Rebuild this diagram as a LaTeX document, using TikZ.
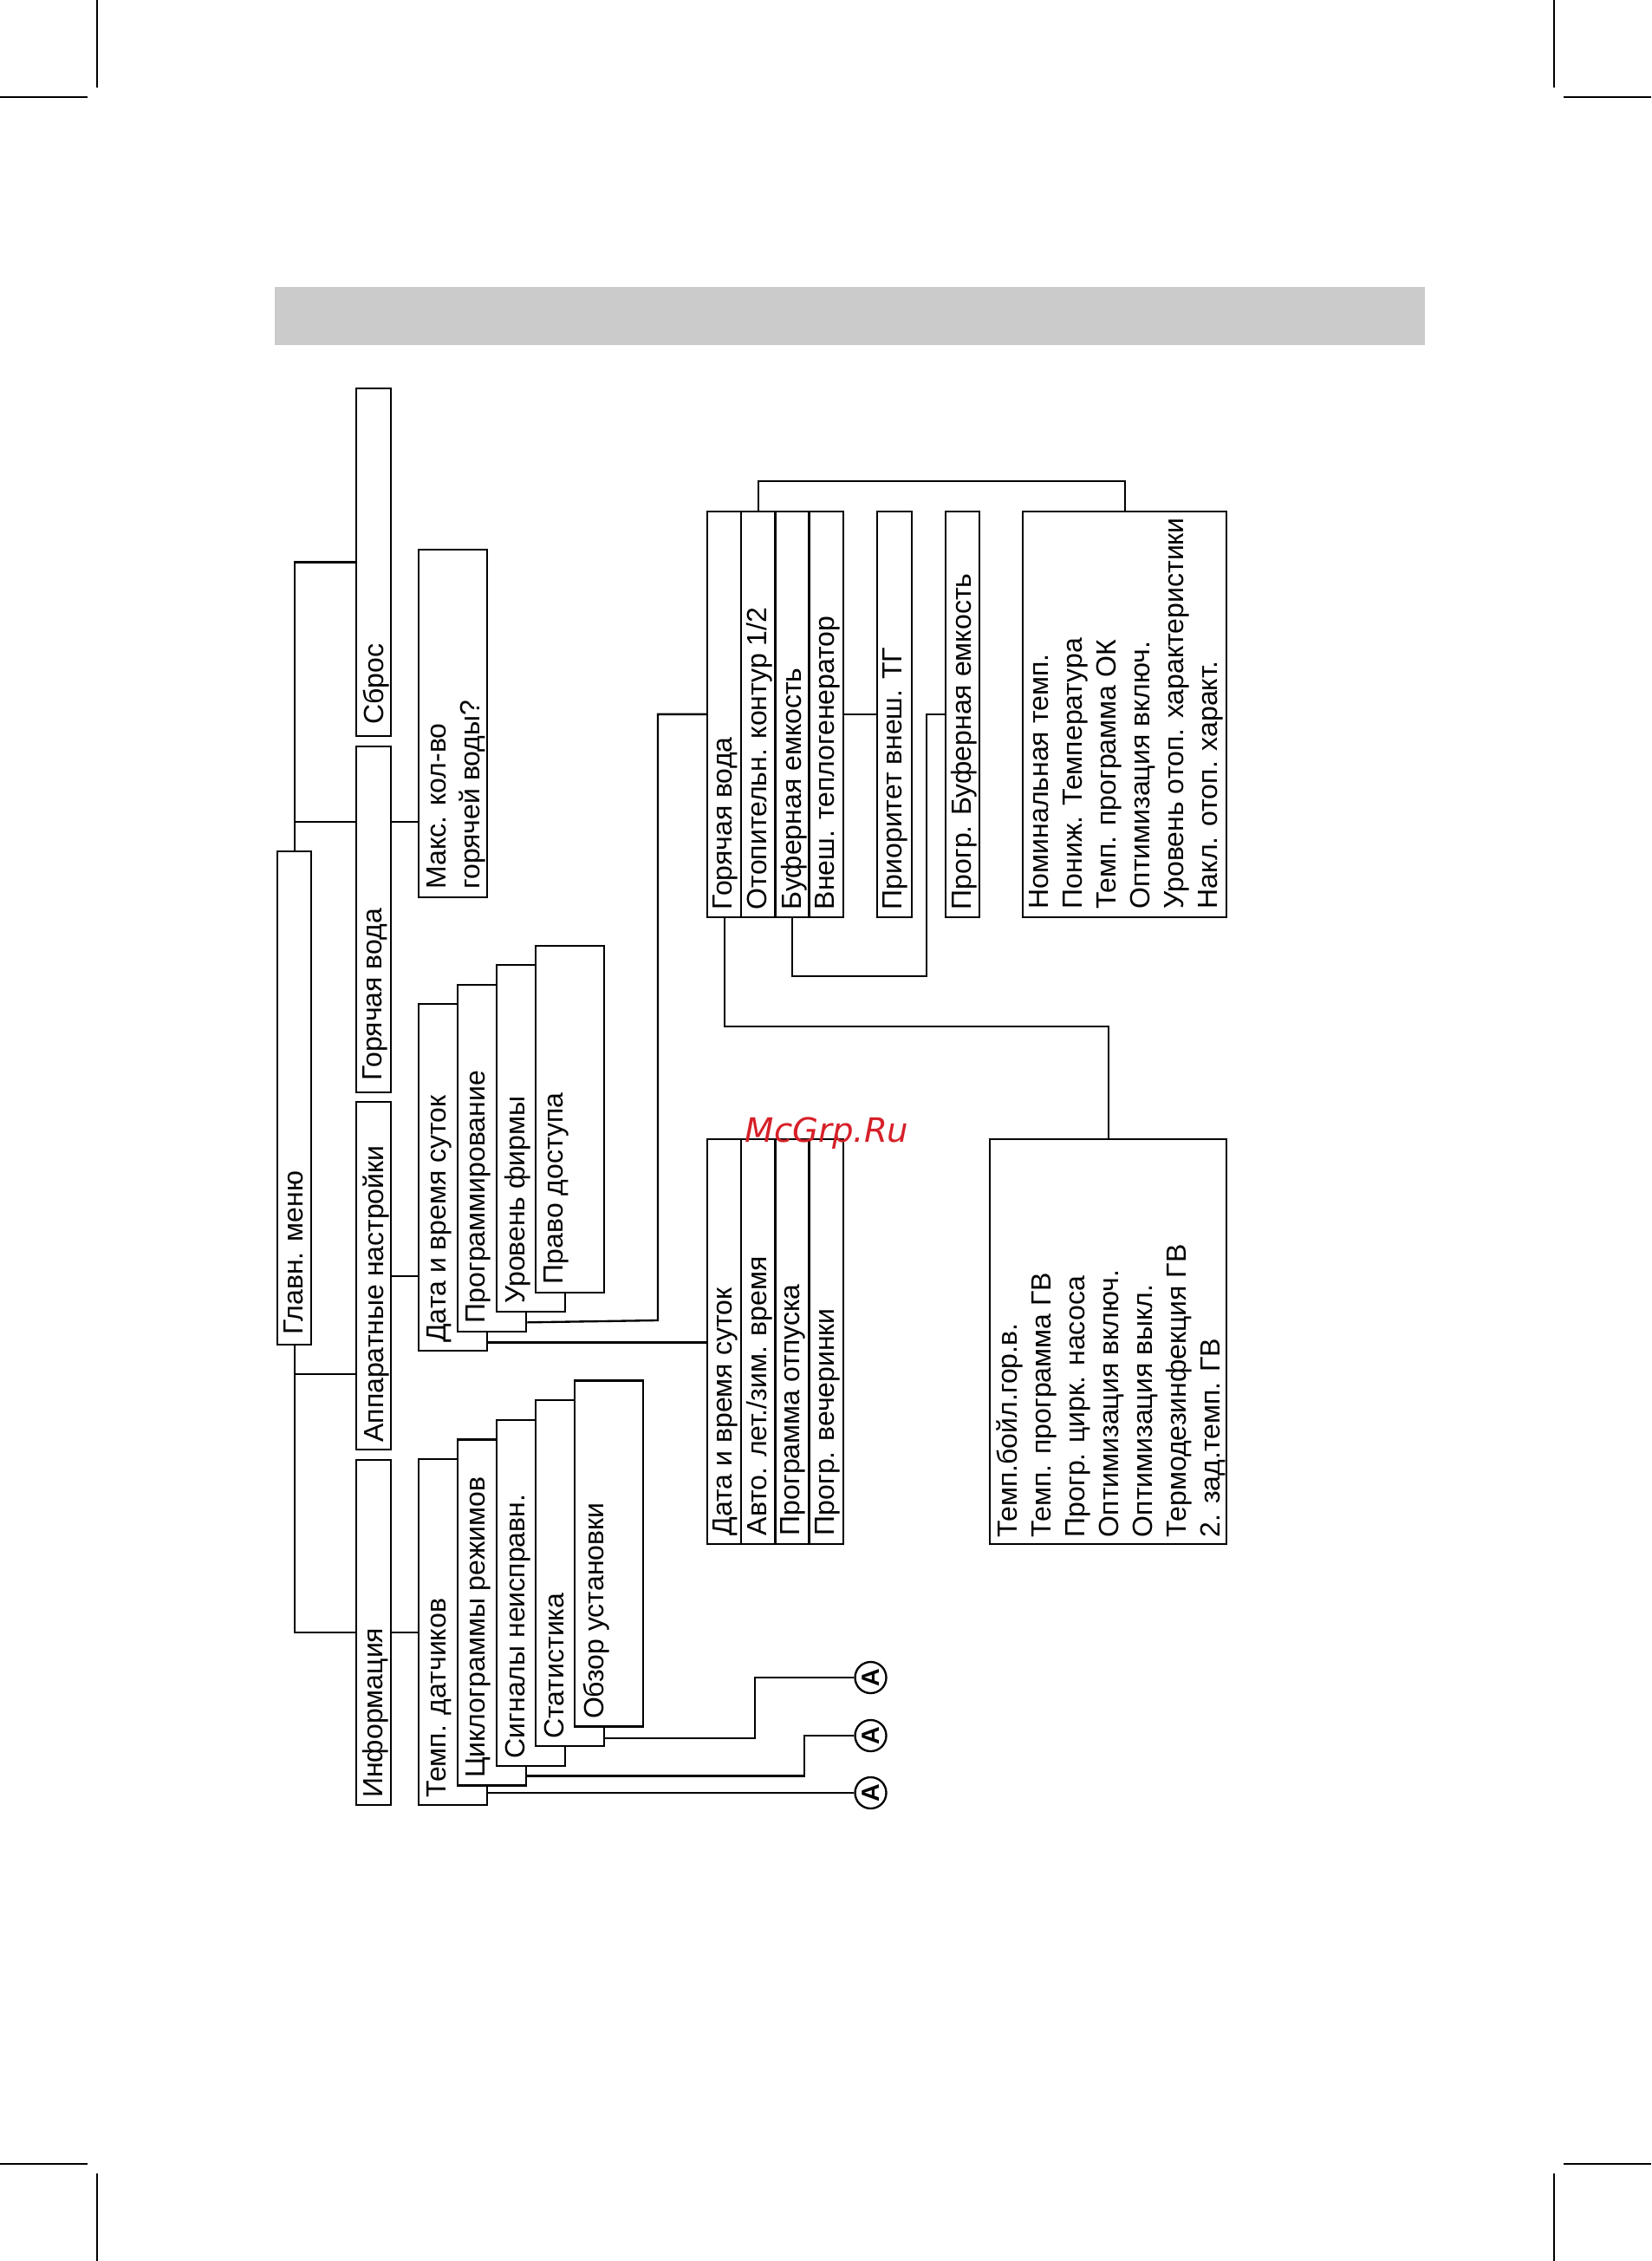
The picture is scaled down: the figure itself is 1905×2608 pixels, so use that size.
\documentclass[tikz,border=0pt]{standalone}
\usepackage{fontspec}
\setmainfont{Liberation Sans}
\newfontfamily\markfont{DejaVu Sans}
\newcommand{\menufont}{\fontsize{9.6pt}{11.7pt}\selectfont}
\definecolor{band}{RGB}{203,203,203}
\definecolor{wmred}{RGB}{214,32,40}
\tikzset{
  menubox/.style={
    draw=black,
    fill=white,
    line width=0.7pt,
    inner sep=0pt,
    anchor=north west
  },
  boxsize/.style 2 args={
    minimum width=#1*0.3pt,
    minimum height=#2*0.3pt
  },
  boxtext/.style={
    rotate=90,
    anchor=north west,
    inner sep=0pt,
    align=left,
    font=\menufont
  },
  jumpmark/.style={
    draw=black,
    circle,
    fill=white,
    line width=0.7pt,
    minimum size=10.8pt,
    inner sep=0pt,
    rotate=90,
    font=\bfseries\fontsize{8.6pt}{8.6pt}\selectfont
  },
  link/.style={
    line width=0.7pt
  },
  cropmark/.style={
    line width=0.4pt
  }
}

\begin{document}
\begin{tikzpicture}[x=0.3pt, y=-0.3pt]
  \useasboundingbox (0,0) rectangle (1905,2608);
  \draw[cropmark] (112,0) -- (112,101) (0,112) -- (101,112);
  \draw[cropmark] (1793,0) -- (1793,101) (1804,112) -- (1905,112);
  \draw[cropmark] (112,2507) -- (112,2608) (0,2496) -- (101,2496);
  \draw[cropmark] (1793,2507) -- (1793,2608) (1804,2496) -- (1905,2496);
  \fill[band] (317,331) rectangle (1644,398);

  % first level
  \node[menubox, boxsize={39}{569}] (glavn) at (319,981) {};
  \node[menubox, boxsize={40}{401}] (sbros) at (410,447) {};
  \node[menubox, boxsize={40}{399}] (hotw) at (410,860) {};
  \node[menubox, boxsize={40}{401}] (app) at (410,1270) {};
  \node[menubox, boxsize={40}{398}] (info) at (410,1683) {};
  \node[boxtext] (glavn-t) at ([shift={(8,-12)}]glavn.south west) {Главн. меню};
  \node[boxtext] (sbros-t) at ([shift={(8,-14)}]sbros.south west) {Сброс};
  \node[boxtext] (hotw-t) at ([shift={(8,-14)}]hotw.south west) {Горячая вода};
  \node[boxtext] (app-t) at ([shift={(8,-9)}]app.south west) {Аппаратные настройки};
  \node[boxtext] (info-t) at ([shift={(8,-9)}]info.south west) {Информация};

  \node[menubox, boxsize={79}{401}] (maks) at (482,633) {};
  \node[boxtext] (maks-t) at ([shift={(10,-10)}]maks.south west) {Макс. кол-во\\горячей воды?};

  % apparatus settings
  \node[menubox, boxsize={79}{400}] (date) at (482,1157) {};
  \node[boxtext] (date-t) at ([shift={(10,-10)}]date.south west) {Дата и время суток};
  \node[menubox, boxsize={79}{400}] (prog) at (527,1134.5) {};
  \node[boxtext] (prog-t) at ([shift={(10,-10)}]prog.south west) {Программирование};
  \node[menubox, boxsize={79}{400}] (level) at (572,1112) {};
  \node[boxtext] (level-t) at ([shift={(10,-10)}]level.south west) {Уровень фирмы};
  \node[menubox, boxsize={79}{400}] (access) at (617,1089.5) {};
  \node[boxtext] (access-t) at ([shift={(10,-10)}]access.south west) {Право доступа};

  % information
  \node[menubox, boxsize={79}{399}] (temp) at (482,1682) {};
  \node[boxtext] (temp-t) at ([shift={(10,-9)}]temp.south west) {Темп. датчиков};
  \node[menubox, boxsize={79}{399}] (cycl) at (527,1659.3) {};
  \node[boxtext] (cycl-t) at ([shift={(10,-9)}]cycl.south west) {Циклограммы режимов};
  \node[menubox, boxsize={79}{399}] (fault) at (572,1636.6) {};
  \node[boxtext] (fault-t) at ([shift={(10,-9)}]fault.south west) {Сигналы неисправн.};
  \node[menubox, boxsize={79}{399}] (stat) at (617,1614) {};
  \node[boxtext] (stat-t) at ([shift={(10,-9)}]stat.south west) {Статистика};
  \node[menubox, boxsize={79}{399}] (review) at (662,1591.3) {};
  \node[boxtext] (review-t) at ([shift={(10,-9)}]review.south west) {Обзор установки};

  % programming
  \node[menubox, boxsize={39.1}{467.5}] (hwcol) at (815,589) {};
  \node[menubox, boxsize={39.1}{467.5}] (heatcol) at (854.1,589) {};
  \node[menubox, boxsize={39.1}{467.5}] (bufcol) at (893.2,589) {};
  \node[menubox, boxsize={39.2}{467.5}] (extcol) at (932.3,589) {};
  \node[boxtext] (hwcol-t) at ([shift={(7,-9)}]hwcol.south west) {Горячая вода};
  \node[boxtext] (heatcol-t) at ([shift={(7,-9)}]heatcol.south west) {Отопительн. контур 1/2};
  \node[boxtext] (bufcol-t) at ([shift={(7,-9)}]bufcol.south west) {Буферная емкость};
  \node[boxtext] (extcol-t) at ([shift={(7,-9)}]extcol.south west) {Внеш. теплогенератор};
  \node[menubox, boxsize={40}{467.5}] (prio) at (1011,589) {};
  \node[boxtext] (prio-t) at ([shift={(7,-9)}]prio.south west) {Приоритет внеш. ТГ};
  \node[menubox, boxsize={39}{467.5}] (bufprog) at (1090,589) {};
  \node[boxtext] (bufprog-t) at ([shift={(7,-9)}]bufprog.south west) {Прогр. Буферная емкость};
  \node[menubox, boxsize={235}{467.5}] (heatpar) at (1179,589) {};
  \node[boxtext] (heatpar-t) at ([shift={(8,-10)}]heatpar.south west) {Номинальная темп.\\Пониж. Температура\\Темп. программа ОК\\Оптимизация включ.\\Уровень отоп. характеристики\\Накл. отоп. характ.};

  \node[menubox, boxsize={39.1}{466.5}] (dtcol) at (815,1313) {};
  \node[menubox, boxsize={39.1}{466.5}] (dstcol) at (854.1,1313) {};
  \node[menubox, boxsize={39.1}{466.5}] (holcol) at (893.2,1313) {};
  \node[menubox, boxsize={39.2}{466.5}] (partycol) at (932.3,1313) {};
  \node[boxtext] (dtcol-t) at ([shift={(7,-10)}]dtcol.south west) {Дата и время суток};
  \node[boxtext] (dstcol-t) at ([shift={(7,-10)}]dstcol.south west) {Авто. лет./зим. время};
  \node[boxtext] (holcol-t) at ([shift={(7,-10)}]holcol.south west) {Программа отпуска};
  \node[boxtext] (partycol-t) at ([shift={(7,-10)}]partycol.south west) {Прогр. вечеринки};
  \node[menubox, boxsize={273}{466.5}] (dhwpar) at (1141,1313) {};
  \node[boxtext] (dhwpar-t) at ([shift={(8,-8)}]dhwpar.south west) {Темп.бойл.гор.в.\\Темп. программа ГВ\\Прогр. цирк. насоса\\Оптимизация включ.\\Оптимизация выкл.\\Термодезинфекция ГВ\\2. зад.темп. ГВ};

  \node[jumpmark] (jumpa) at (1004.5,1935) {A};
  \node[jumpmark] (jumpb) at (1004.5,2002) {A};
  \node[jumpmark] (jumpc) at (1004.5,2068) {A};

  \coordinate (hwjoin) at (338.5,948);
  \coordinate (appjoin) at (338.5,1585);
  \coordinate (progbus) at (759,1523);
  \coordinate (topbus) at (0,555);
  \coordinate (bufbus) at (1069,1126);
  \coordinate (dhwbus) at (0,1184);
  \coordinate (abus) at (871,0);
  \coordinate (bbus) at (928,0);

  \draw[link] (glavn.north) |- (sbros.west);
  \draw[link] (glavn.south) |- (info.west);
  \draw[link] (hwjoin) -- (hwjoin -| hotw.west);
  \draw[link] (hwjoin -| hotw.east) -- (hwjoin -| maks.west);
  \draw[link] (appjoin) -- (appjoin -| app.west);
  \draw[link] (app.east) -- (app.east -| date.west);
  \draw[link] (info.east) -- (info.east -| temp.west);

  \draw[link] ([shift={(0,-11)}]date.south east) -- ([shift={(0,-11)}]date.south east -| dtcol.west);
  \draw[link] ([shift={(0,-11.5)}]prog.south east) -- (progbus) |- (hwcol.west);
  \draw[link] (heatcol.north) -- (heatcol.north |- topbus) -| (heatpar.north);
  \draw[link] (extcol.east) -- (prio.west);
  \draw[link] (bufcol.south) |- (bufbus) |- (bufprog.west);
  \draw[link] (hwcol.south) -- (hwcol.south |- dhwbus) -| (dhwpar.north);

  \draw[link] ([shift={(0,-10.5)}]stat.south east) -| (abus |- jumpa.north) -- (jumpa.north);
  \draw[link] ([shift={(0,-12.3)}]cycl.south east) -| (bbus |- jumpb.north) -- (jumpb.north);
  \draw[link] (jumpc.north -| temp.east) -- (jumpc.north);

  \node[anchor=base west, inner sep=0pt, text=wmred, font=\markfont\itshape\fontsize{11.6pt}{13pt}\selectfont] (wm) at (859,1317) {McGrp.Ru};
\end{tikzpicture}
\end{document}
